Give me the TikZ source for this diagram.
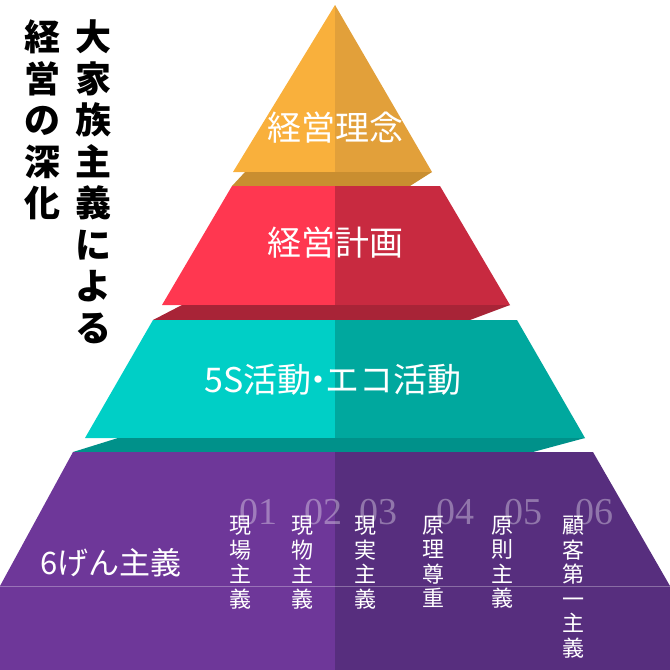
\documentclass[tikz,border=0pt]{standalone}
\usepackage{fontspec}
\setmainfont{Liberation Serif}
\newfontfamily\cjk{Noto Sans CJK JP}
\begin{document}
\begin{tikzpicture}[x=1pt,y=-1pt]
\definecolor{oL}{HTML}{F9B03C}\definecolor{oR}{HTML}{E2A03A}\definecolor{oB}{HTML}{C98E30}
\definecolor{rL}{HTML}{FF3750}\definecolor{rR}{HTML}{C82A40}\definecolor{rB}{HTML}{A82437}
\definecolor{tL}{HTML}{00CFC6}\definecolor{tR}{HTML}{00A89E}\definecolor{tB}{HTML}{00918A}
\definecolor{pL}{HTML}{6E3799}\definecolor{pR}{HTML}{572E7E}
\tikzset{lbl/.style={text=white,font=\cjk\fontsize{34}{36}\selectfont},
 vt/.style={text=white,font=\cjk\fontsize{22}{24.5}\selectfont,align=center,anchor=north,inner sep=0},
 num/.style={text=white,opacity=0.35,font=\fontsize{38}{38}\selectfont,inner sep=0},
 bt/.style={text=black,font=\cjk\bfseries\fontsize{36}{41.5}\selectfont,align=center,anchor=north,inner sep=0}}
\useasboundingbox (0,0) rectangle (670,670);
% top
\fill[oL] (335,5) -- (233,172) -- (335,172) -- cycle;
\fill[oR] (335,5) -- (432,172) -- (335,172) -- cycle;
\fill[oB] (245,172) -- (432,172) -- (410,186) -- (232,186) -- cycle;
% red
\fill[rL] (232,186) -- (335,186) -- (335,305) -- (162,305) -- cycle;
\fill[rR] (335,186) -- (440,186) -- (510,305) -- (335,305) -- cycle;
\fill[rB] (182,305) -- (510,305) -- (470,320) -- (153,320) -- cycle;
% teal
\fill[tL] (153,320) -- (335,320) -- (335,438) -- (85,438) -- cycle;
\fill[tR] (335,320) -- (517,320) -- (585,438) -- (335,438) -- cycle;
\fill[tB] (118,438) -- (585,438) -- (533,452) -- (73,452) -- cycle;
% purple
\fill[pL] (73,452) -- (335,452) -- (335,670) -- (0,670) -- (0,586) -- cycle;
\fill[pR] (335,452) -- (593,452) -- (670,586) -- (670,670) -- (335,670) -- cycle;
\draw[white,opacity=0.3,line width=0.8] (0,586) -- (670,586);
% labels
\node[lbl] (l1) at (335,128) {経営理念};
\node[lbl] (l2) at (335,243) {経営計画};
\node[lbl] (l3) at (333,380) {5S活動\kern-0.3em・\kern-0.3emエコ活動};
\node[lbl,font=\cjk\fontsize{31}{33}\selectfont] (l4) at (111,563) {6げん主義};
\foreach \n/\x in {01/258,02/323,03/378,04/455,05/523,06/594}
  \node[num] (n\n) at (\x,512) {\n};
\node[vt] (v1) at (240,516) {現\\場\\主\\義};
\node[vt] (v2) at (302,516) {現\\物\\主\\義};
\node[vt] (v3) at (365,516) {現\\実\\主\\義};
\node[vt] (v4) at (433,516) {原\\理\\尊\\重};
\node[vt] (v5) at (502,516) {原\\則\\主\\義};
\node[vt] (v6) at (573,516) {顧\\客\\第\\一\\主\\義};
\node[bt] (c1) at (93,20) {大\\家\\族\\主\\義\\に\\よ\\る};
\node[bt] (c2) at (42,20) {経\\営\\の\\深\\化};
\end{tikzpicture}
\end{document}
